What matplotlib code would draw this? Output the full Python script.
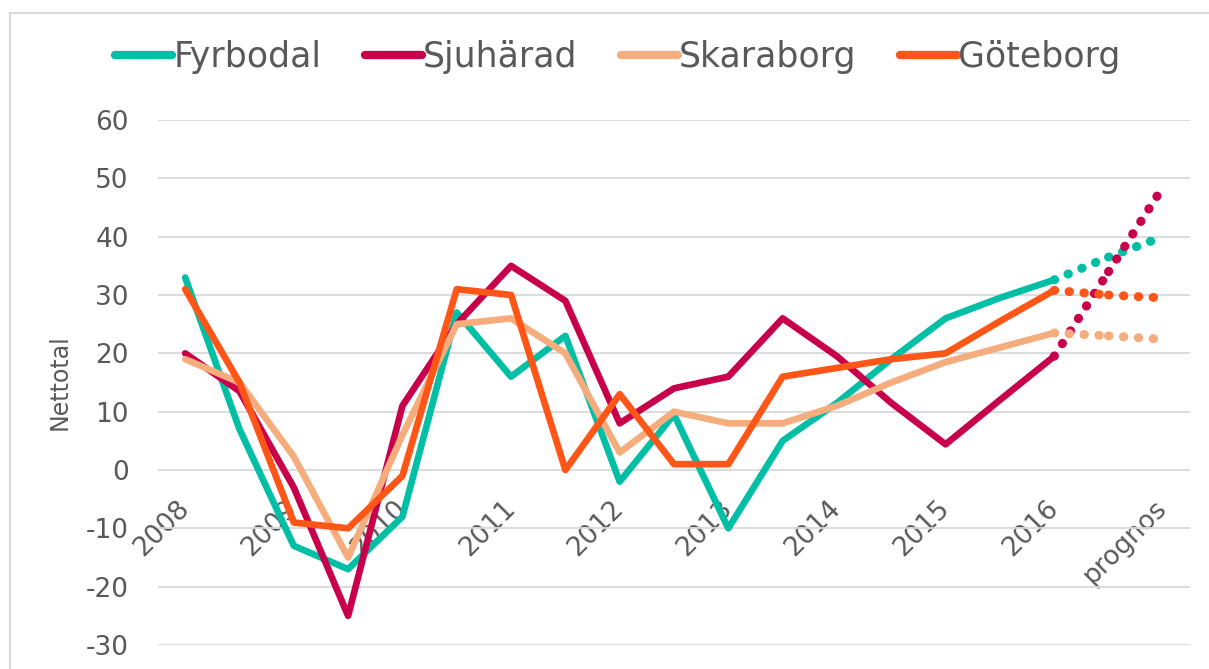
import numpy as np
import matplotlib.pyplot as plt
from matplotlib.lines import Line2D

plt.rcParams['axes.unicode_minus'] = False

# kategorier (halvår), etiketter varannan
tick_labels = ['2008', '2009', '2010', '2011', '2012', '2013', '2014', '2015', '2016', 'prognos']

# utfall (solid) + prognos (prickad)
fyrbodal = [33, 7, -13, -17, -8, 27, 16, 23, -2, 9.5, -10, 5, 11.5, 19, 26, 29.5, 32.6]
sjuharad = [20, 13.5, -3, -25, 11, 25, 35, 29, 8, 14, 16, 26, 19.5, 11.5, 4.4, 12, 19.5]
skaraborg = [19, 15, 2.3, -15, 6, 25, 26, 20, 3, 10, 8, 8, 11, 15, 18.5, 21, 23.5]
goteborg = [31, 15, -9, -10, -1, 31, 30, 0, 13, 1, 1, 16, 17.5, 19, 20, 25.5, 30.8]

fyrbodal_prog = [36.5, 40]
sjuharad_prog = [34, 48.5]
skaraborg_prog = [23, 22.4]
goteborg_prog = [30, 29.5]

names = ['Fyrbodal', 'Sjuhärad', 'Skaraborg', 'Göteborg']
colors = ['#00BFA5', '#C8004B', '#F5AD7D', '#FF5516']
series = [fyrbodal, sjuharad, skaraborg, goteborg]
prognos = [fyrbodal_prog, sjuharad_prog, skaraborg_prog, goteborg_prog]

textcolor = '#595959'
gridcolor = '#D9D9D9'
lw = 4.8

fig = plt.figure(figsize=(12.09, 6.69), dpi=100)
ax = fig.add_axes([158 / 1209, 1 - 645 / 669, 1032 / 1209, 525 / 669])

for name, c, s, p in zip(names, colors, series, prognos):
    x = np.arange(len(s))
    ax.plot(x, s, color=c, lw=lw, label=name, solid_capstyle='round',
            solid_joinstyle='round', zorder=3)
    # prickade prognossegment, ett i taget
    px = [x[-1], x[-1] + 1, x[-1] + 2]
    py = [s[-1]] + p
    for i in range(2):
        ax.plot(px[i:i + 2], py[i:i + 2], color=c, lw=6.5,
                linestyle=(0, (0.05, 1.6)), dash_capstyle='round', zorder=3)

# x-axeln korsar vid 0 (som i Excel) - måste sättas före etiketterna
ax.spines['bottom'].set_position(('data', 0))
ax.spines['bottom'].set_color('none')
for sp in ['top', 'right', 'left']:
    ax.spines[sp].set_visible(False)

ax.set_xlim(-0.5, 18.5)
ax.set_ylim(-30, 60)
ax.set_yticks(np.arange(-30, 61, 10))
ax.set_xticks(np.arange(0, 19, 2))
ax.tick_params(axis='y', length=0, pad=21, labelsize=19, labelcolor=textcolor)
ax.tick_params(axis='x', length=0, pad=25, labelsize=19, labelcolor=textcolor)
ax.set_xticklabels(tick_labels, rotation=45, ha='right', va='center',
                   rotation_mode='anchor')

ax.yaxis.grid(True, color=gridcolor, lw=1.3)
ax.set_axisbelow(True)

ax.set_ylabel('Nettotal', fontsize=17, color=textcolor, labelpad=10)

leg = fig.legend(loc='center', bbox_to_anchor=(0.511, 0.915), ncol=4,
                 frameon=False, fontsize=25, handlelength=1.65,
                 handletextpad=0.03, columnspacing=1.25)
for t in leg.get_texts():
    t.set_color(textcolor)
for h in leg.get_lines():
    h.set_linewidth(6)
    h.set_solid_capstyle('round')

# ram runt diagrammet
fig.add_artist(Line2D([10 / 1209, 1.0], [1 - 13 / 669, 1 - 13 / 669],
                      transform=fig.transFigure, color=gridcolor, lw=1.5))
fig.add_artist(Line2D([10 / 1209, 10 / 1209], [0, 1 - 13 / 669],
                      transform=fig.transFigure, color=gridcolor, lw=1.5))

fig.savefig('out.png', dpi=100)
